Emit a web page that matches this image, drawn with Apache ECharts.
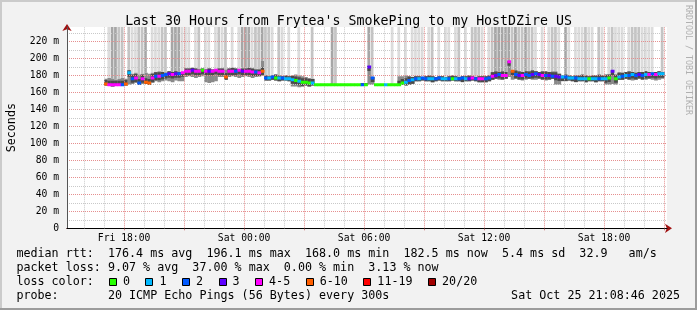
<!DOCTYPE html>
<html><head><meta charset="utf-8">
<script src="https://cdn.jsdelivr.net/npm/echarts@6/dist/echarts.min.js"></script>
<style>html,body{margin:0;padding:0;background:#f2f2f2}#c{width:697px;height:310px}</style>
</head><body><div id="c"></div>
<script>
// ---------- data (hours since Fri 00:00) ----------
const axisStartHour = 15.146;   // Fri 15:08:46
const axisEndHour = 45.146;     // Sat 21:08:46
const firstSlotHour = 17.0;     // first sample slot
const slotHours = 1 / 6;        // 10-minute slots

const median = [170,169,169,169,169,169,170,
183,
176,177,171,176,172,171,177,
179,179,180,
181,182,181,182,182,183,
185,185,186,185,185,186,185,185,185,186,185,185,
178,
185,185,185,186,185,185,185,184,184,183,
185,
177,177,178,177,177,177,176,176,
175,174,173,172,172,171,171,
169,169,169,169,169,169,169,169,169,169,169,169,169,169,
169,169,
190,
177,
169,169,169,169,169,169,169,169,
171,172,174,175,
176,176,177,176,176,176,176,177,176,176,176,176,176,176,177,176,176,177,176,176,
176,176,177,
179,180,181,180,180,
196,
185,
181,180,180,181,180,181,182,181,180,180,180,179,179,
178,
178,178,177,177,177,176,176,176,176,176,176,176,176,
176,177,185,176,
178,179,180,180,181,180,181,180,181,181,182,181,182,182];

// loss bucket index per slot (0:"0",1:"1",2:"2",3:"3",4:"4-5",5:"6-10",6:"11-19",7:"20/20")
const lossBucket = [5,4,4,4,4,2,5,
1,
2,4,2,4,5,5,4,
2,4,2,
2,3,4,3,2,4,
4,4,3,4,4,0,4,3,4,4,4,4,
5,
4,4,2,4,3,4,4,4,2,4,
5,
2,1,2,0,1,2,1,1,
1,0,1,0,0,0,1,
0,0,0,0,0,0,0,0,0,0,0,0,0,0,
2,0,
3,
2,
0,0,0,1,0,0,0,0,
0,1,2,1,
2,1,2,2,1,1,2,2,1,1,2,0,1,2,2,1,3,4,2,4,
4,2,2,
4,3,2,4,4,
4,
5,
2,3,4,2,2,3,2,3,4,2,3,2,3,
3,
1,2,1,1,2,1,1,1,0,1,1,2,1,
1,0,3,0,
1,2,1,2,1,2,3,2,1,4,2,4,1,1];

const smokeLo = [168,168,167,168,168,168,168,
169,
170,171,169,170,170,169,171,
173,172,173,174,173,172,174,173,173,
178,179,178,177,178,179,
172,171,172,173,
178,178,
175,
178,179,178,177,178,179,178,177,178,179,
180,
174,174,175,174,173,174,174,173,
167,167,166,167,168,167,168,
168,168,168,168,168,168,168,168,168,168,168,168,168,168,
168,168,
169,
169,
168,168,168,168,168,168,168,
169,169,168,169,170,
173,173,174,173,173,172,173,174,173,173,173,174,173,173,172,173,173,174,173,172,
172,172,173,
175,176,175,175,176,
178,
175,176,175,174,175,176,175,175,176,175,174,175,176,169,
169,
173,173,174,173,172,173,173,172,173,173,172,173,173,
169,169,170,169,
175,175,176,175,174,175,176,175,175,176,175,174,175,176];

const smokeHi = [176,177,176,175,176,177,176,
186,
182,183,181,182,183,182,183,
184,185,184,183,185,184,185,184,184,
188,188,189,188,187,188,
187,188,187,186,
188,188,
187,
188,189,188,187,188,188,189,188,187,187,
197,
180,179,180,181,180,179,180,179,
180,181,180,179,178,177,176,
170,170,170,170,170,170,170,170,170,170,170,170,170,170,
171,171,
191,
178,
170,170,170,170,170,170,170,
179,179,180,179,178,
179,179,178,179,180,179,178,179,179,178,179,180,179,178,179,179,180,179,178,179,
179,179,180,
184,185,184,185,184,
197,
185,186,185,184,185,185,186,185,184,185,185,184,185,185,
182,
180,181,180,179,180,180,181,180,179,180,180,181,180,
181,181,186,181,
184,183,184,185,184,183,184,184,185,184,183,184,185,184];

// shade of the tall outlier smoke above the band (0 none, 1 light, 2 mid, 3 dark)
const tallShade = [0,1,3,3,2,2,0,2,1,1,
2,2,3,0,1,1,1,2,2,0,
3,3,3,1,1,1,0,1,2,0,
1,1,0,1,2,1,2,0,1,0,
1,3,3,3,1,2,2,3,2,2,
1,0,2,1,0,1,0,0,1,0,
0,0,2,0,0,0,0,0,3,2,
0,0,0,0,0,0,0,0,0,3,
2,0,0,0,0,0,1,0,1,0,
1,0,1,1,1,1,0,1,2,0,
1,0,1,1,0,1,2,0,1,0,
2,2,2,1,0,1,2,3,3,3,
3,3,2,3,2,2,3,2,2,1,
0,1,0,1,2,2,1,0,3,1,
0,1,1,1,2,1,1,0,2,1,
0,1,2,1,1,1,0,1,2,2,
2,1,1,1,1,0,0,2];

const lossLabels = ['0','1','2','3','4-5','6-10','11-19','20/20'];
const lossColors = ['#26ff00','#00b8ff','#0059ff','#5e00ff','#ff00ff','#ff5f00','#ff0000','#a10000'];

const xLabelHours = [18, 24, 30, 36, 42];
const xLabelTexts = ['Fri 18:00','Sat 00:00','Sat 06:00','Sat 12:00','Sat 18:00'];
const yLabelValues = [0,20,40,60,80,100,120,140,160,180,200,220];
const yLabelTexts = ['0','20 m','40 m','60 m','80 m','100 m','120 m','140 m','160 m','180 m','200 m','220 m'];
const yMax = 237;

const titleText = "Last 30 Hours from Frytea's SmokePing to my HostDZire US";
const statLines = [
  ['median rtt:', '176.4 ms avg  196.1 ms max  168.0 ms min  182.5 ms now  5.4 ms sd  32.9   am/s'],
  ['packet loss:', '9.07 % avg  37.00 % max  0.00 % min  3.13 % now'],
  ['loss color:', ''],
  ['probe:', '20 ICMP Echo Pings (56 Bytes) every 300s']
];
const stampText = 'Sat Oct 25 21:08:46 2025';
const creditText = 'RRDTOOL / TOBI OETIKER';

// ---------- build ----------
const FONT = '"DejaVu Sans Mono", monospace';
const majorGrid = '#e58f8f';
const minorGrid = '#c9c9c9';
const tallColors = [null, '#dcdcdc', '#c4c4c4', '#a6a6a6'];

const slotT = median.map((_, i) => firstSlotHour + i * slotHours);
const smokeData = slotT.map((t, i) => [t, smokeLo[i], smokeHi[i], tallShade[i], median[i]]);
const medianData = slotT.map((t, i) => [t, median[i], lossBucket[i]]);

const hourTicks = [];
const threeHourTicks = [];
for (let h = Math.ceil(axisStartHour); h <= Math.floor(axisEndHour); h++) {
  if (h % 3 === 0) threeHourTicks.push(h); else hourTicks.push(h);
}
const gridLineData = hourTicks.map(h => ({xAxis: h, lineStyle: {color: minorGrid}}))
  .concat(threeHourTicks.map(h => ({xAxis: h, lineStyle: {color: majorGrid}})));

// y split lines: 0..230 every 10, plus the top edge tick (hidden)
const yColors = [];
for (let v = 0; v <= 230; v += 10) yColors.push(v % 20 === 0 ? majorGrid : minorGrid);
yColors.push('rgba(0,0,0,0)');

function smokeItem(params, api) {
  const t = api.value(0), lo = api.value(1), hi = api.value(2), shade = api.value(3), med = api.value(4);
  const cs = params.coordSys;
  const w = api.size([slotHours, 0])[0];
  const pLo = api.coord([t, lo]), pHi = api.coord([t, hi]), pMed = api.coord([t, med]);
  const x = pLo[0];
  const ch = [];
  if (shade > 0) {
    ch.push({type:'rect', shape:{x:x, y:cs.y, width:w * 0.82, height:pHi[1] - cs.y}, style:{fill:tallColors[shade]}});
  }
  ch.push({type:'rect', shape:{x:x, y:pHi[1], width:w + 0.4, height:pLo[1] - pHi[1]}, style:{fill:'#8a8a8a'}});
  const it = Math.max(pHi[1], pMed[1] - 4), ib = Math.min(pLo[1], pMed[1] + 4);
  if (ib > it) ch.push({type:'rect', shape:{x:x, y:it, width:w + 0.4, height:ib - it}, style:{fill:'#4a4a4a'}});
  return {type:'group', children:ch};
}
function medianItem(params, api) {
  const t = api.value(0), m = api.value(1), b = api.value(2);
  const p = api.coord([t, m]);
  const w = api.size([slotHours, 0])[0];
  return {type:'rect', shape:{x:p[0], y:p[1] - 1.5, width:w + 0.4, height:3}, style:{fill:lossColors[b]}};
}

const cw = 7.04, tx = 16.4, valCol = 13;
const lineY = [254.3, 268.3, 282.3, 296.2];
const graphics = [
  {type:'rect', shape:{x:0,y:0,width:697,height:2}, style:{fill:'#cbcbcb'}, silent:true},
  {type:'rect', shape:{x:0,y:0,width:2,height:310}, style:{fill:'#cbcbcb'}, silent:true},
  {type:'rect', shape:{x:0,y:308,width:697,height:2}, style:{fill:'#9c9c9c'}, silent:true},
  {type:'rect', shape:{x:695,y:0,width:2,height:310}, style:{fill:'#9c9c9c'}, silent:true},
  {type:'text', x:688.5, y:60, rotation:-Math.PI/2,
   style:{text:creditText, font:'8.3px ' + FONT, fill:'#b0b0b0', align:'center', verticalAlign:'middle'}}
];
statLines.forEach((ln, k) => {
  graphics.push({type:'text', x:tx, y:lineY[k], style:{text:ln[0], font:'11.7px ' + FONT, fill:'#000', verticalAlign:'middle'}});
  if (ln[1]) graphics.push({type:'text', x:tx + valCol * cw, y:lineY[k], style:{text:ln[1], font:'11.7px ' + FONT, fill:'#000', verticalAlign:'middle'}});
});
graphics.push({type:'text', x:680, y:lineY[3], style:{text:stampText, font:'11.7px ' + FONT, fill:'#000', align:'right', verticalAlign:'middle'}});
let bx = tx + valCol * cw + 1;
lossLabels.forEach((lab, k) => {
  graphics.push({type:'rect', shape:{x:Math.round(bx) + 0.5, y:278.5, width:7, height:7}, style:{fill:lossColors[k], stroke:'#000', lineWidth:1}});
  graphics.push({type:'text', x:bx + 14, y:lineY[2], style:{text:lab, font:'11.7px ' + FONT, fill:'#000', verticalAlign:'middle'}});
  bx += 8 + 7 + lab.length * cw + 14.5;
});

const option = {
  animation: false,
  backgroundColor: '#f2f2f2',
  title: {text: titleText, left: 'center', top: 10,
    textStyle: {fontFamily: FONT, fontSize: 13.25, fontWeight: 'normal', color: '#000'}},
  grid: {left: 67, top: 27, width: 600, bottom: 81.7, backgroundColor: '#ffffff', show: true, borderWidth: 0,
         containLabel: false, outerBoundsMode: 'none'},
  xAxis: [
    {type: 'value', min: axisStartHour, max: axisEndHour, position: 'bottom', z: 4,
     axisLine: {show: true, lineStyle: {color: '#000', width: 1}},
     axisTick: {show: false},
     axisLabel: {show: false},
     splitLine: {show: false}},
    {type: 'value', min: axisStartHour, max: axisEndHour, position: 'bottom', z: 3,
     axisLine: {show: true, symbol: ['none', 'arrow'], symbolSize: [7, 7], symbolOffset: [0, 5],
                lineStyle: {color: '#a01010', width: 1}},
     axisTick: {show: true, length: 2, customValues: threeHourTicks, lineStyle: {color: '#d08080'}},
     axisLabel: {customValues: xLabelHours, margin: 5, fontFamily: FONT, fontSize: 9.7, color: '#000',
                 formatter: v => { const k = xLabelHours.indexOf(Math.round(v)); return k >= 0 ? xLabelTexts[k] : ''; }},
     splitLine: {show: false}}
  ],
  yAxis: [
    {type: 'value', min: 0, max: yMax, interval: 10, position: 'left', z: 4,
     name: 'Seconds', nameLocation: 'middle', nameGap: 49.5, nameRotate: 90,
     nameTextStyle: {fontFamily: FONT, fontSize: 11.7, color: '#000'},
     axisLine: {show: true, lineStyle: {color: '#555', width: 1}},
     axisTick: {show: false},
     axisLabel: {margin: 8, fontFamily: FONT, fontSize: 9.7, color: '#000',
                 formatter: v => { const k = yLabelValues.indexOf(Math.round(v)); return (k >= 0 && Math.abs(v - yLabelValues[k]) < 1e-6) ? yLabelTexts[k] : ''; }},
     splitLine: {show: true, lineStyle: {color: yColors, width: 1, type: [1, 1]}}},
    {type: 'value', min: 0, max: yMax, position: 'left', z: 3,
     axisLine: {show: true, symbol: ['none', 'arrow'], symbolSize: [7, 7], symbolOffset: [0, 3],
                lineStyle: {color: '#a01010', width: 1}},
     axisTick: {show: false}, axisLabel: {show: false}, splitLine: {show: false}}
  ],
  series: [
    {type: 'custom', name: 'smoke', xAxisIndex: 0, yAxisIndex: 0, z: 2, clip: true, silent: true,
     renderItem: smokeItem, encode: {x: 0, y: [1, 2]}, data: smokeData},
    {type: 'line', name: 'grid', xAxisIndex: 0, yAxisIndex: 0, z: 3, silent: true, data: [],
     markLine: {silent: true, symbol: ['none', 'none'], label: {show: false}, animation: false,
                lineStyle: {type: [1, 1], width: 1}, emphasis: {disabled: true}, data: gridLineData}},
    {type: 'custom', name: 'median', xAxisIndex: 0, yAxisIndex: 0, z: 5, clip: true, silent: true,
     renderItem: medianItem, encode: {x: 0, y: 1}, data: medianData}
  ],
  graphic: graphics
};
const chart = echarts.init(document.getElementById('c'), null, {renderer: 'canvas', width: 697, height: 310});
chart.setOption(option);
</script>
</body></html>
